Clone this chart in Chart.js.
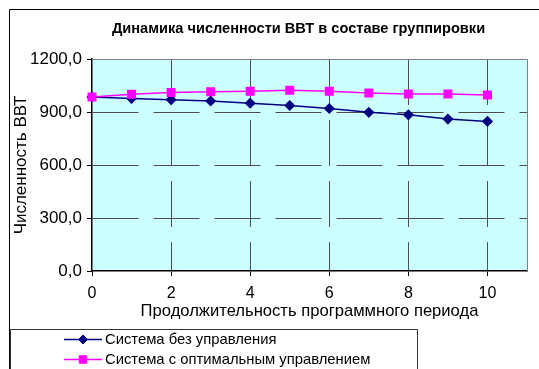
<!DOCTYPE html>
<html lang="ru">
<head>
<meta charset="utf-8">
<title>Динамика численности ВВТ в составе группировки</title>
<script src="https://cdn.jsdelivr.net/npm/chart.js@4/dist/chart.umd.min.js"></script>
<style>
  html, body { margin: 0; padding: 0; background: #ffffff; }
  #wrap { width: 539px; height: 369px; }
</style>
</head>
<body>
<div id="wrap"><canvas id="chart" width="539" height="369"></canvas></div>
<script>
// Period of the programme (x axis)
const periods = [0, 1, 2, 3, 4, 5, 6, 7, 8, 9, 10];
// Number of weapons units without control
const noControl = [985, 977, 970, 962, 950, 937, 920, 898, 884, 860, 847];
// Number of weapons units with optimal control
const optimalControl = [985, 1001, 1010, 1015, 1017, 1023, 1017, 1008, 1002, 1002, 996];

const seriesNames = ['Система без управления', 'Система с оптимальным управлением'];
const chartTitle = 'Динамика численности ВВТ в составе группировки';
const xTitle = 'Продолжительность программного периода';
const yTitle = 'Численность ВВТ';

const FONT = "'Liberation Sans', Arial, sans-serif";
const GRID = '#4d4d4d';

const toPoints = vals => periods.map((p, i) => ({ x: p, y: vals[i] }));

// Cyan plot area, gray top/right frame and the outer chart border
const frame = {
  id: 'frame',
  beforeDraw(chart) {
    const { ctx, chartArea: a } = chart;
    ctx.save();
    ctx.fillStyle = '#ffffff';
    ctx.fillRect(0, 0, chart.width, chart.height);
    ctx.fillStyle = '#ccffff';
    ctx.fillRect(a.left, a.top, a.right - a.left, a.bottom - a.top);
    ctx.strokeStyle = '#000000';
    ctx.lineWidth = 1;
    ctx.beginPath();
    ctx.moveTo(9.5, chart.height + 1);
    ctx.lineTo(9.5, 9.5);
    ctx.lineTo(chart.width + 1, 9.5);
    ctx.stroke();
    ctx.restore();
  },
  beforeDatasetsDraw(chart) {
    const { ctx, chartArea: a } = chart;
    ctx.save();
    ctx.strokeStyle = '#808080';
    ctx.lineWidth = 1;
    ctx.beginPath();
    ctx.moveTo(Math.round(a.left), Math.round(a.top) + 0.5);
    ctx.lineTo(Math.round(a.right) + 0.5, Math.round(a.top) + 0.5);
    ctx.lineTo(Math.round(a.right) + 0.5, Math.round(a.bottom));
    ctx.stroke();
    ctx.restore();
  },
  afterLayout(chart) {
    // heading sits a little right of the canvas centre
    const t = chart.titleBlock;
    if (t) { t.left += 30; t.right += 30; }
  }
};

// Boxed legend below the axis title: line sample with marker, then the label
const boxLegend = {
  id: 'boxLegend',
  afterDraw(chart) {
    const { ctx } = chart;
    const left = 10.5, top = 329.5, right = 417.5;
    ctx.save();
    ctx.fillStyle = '#ffffff';
    ctx.fillRect(left, top, right - left, chart.height - top + 2);
    ctx.strokeStyle = '#333333';
    ctx.lineWidth = 1;
    ctx.beginPath();
    ctx.moveTo(left, chart.height + 2);
    ctx.lineTo(left, top);
    ctx.lineTo(right, top);
    ctx.lineTo(right, chart.height + 2);
    ctx.stroke();

    const rows = [339, 359];
    chart.data.datasets.forEach((ds, r) => {
      const y = rows[r] + 0.5;
      ctx.strokeStyle = ds.borderColor;
      ctx.lineWidth = ds.borderWidth;
      ctx.beginPath();
      ctx.moveTo(64, y);
      ctx.lineTo(102, y);
      ctx.stroke();
      ctx.fillStyle = ds.pointBackgroundColor;
      ctx.strokeStyle = ds.pointBorderColor;
      ctx.lineWidth = 1;
      Chart.helpers.drawPoint(ctx, {
        pointStyle: ds.pointStyle,
        radius: ds.pointRadius,
        rotation: 0,
        borderWidth: 1
      }, 83, y);
      ctx.fillStyle = '#000000';
      ctx.font = '14.8px ' + FONT;
      ctx.textBaseline = 'middle';
      ctx.textAlign = 'left';
      ctx.fillText(ds.label, 105, y);
    });
    ctx.restore();
  }
};

new Chart(document.getElementById('chart'), {
  type: 'line',
  data: {
    datasets: [
      {
        label: seriesNames[0],
        data: toPoints(noControl),
        borderColor: '#000080',
        backgroundColor: '#000080',
        pointBackgroundColor: '#000080',
        pointBorderColor: '#000080',
        pointStyle: 'rectRot',
        pointRadius: 4.5,
        pointHoverRadius: 4.5,
        borderWidth: 1.5,
        tension: 0,
        clip: false,
        order: 1
      },
      {
        label: seriesNames[1],
        data: toPoints(optimalControl),
        borderColor: '#ff00ff',
        backgroundColor: '#ff00ff',
        pointBackgroundColor: '#ff00ff',
        pointBorderColor: '#ff00ff',
        pointStyle: 'rect',
        pointRadius: 5.3,
        pointHoverRadius: 5.3,
        borderWidth: 1.5,
        tension: 0,
        clip: false,
        order: 0
      }
    ]
  },
  options: {
    responsive: false,
    animation: false,
    events: [],
    layout: { padding: { left: 10, right: 12, top: 0, bottom: 48 } },
    plugins: {
      legend: { display: false },
      tooltip: { enabled: false },
      title: {
        display: true,
        text: chartTitle,
        color: '#000000',
        font: { family: FONT, size: 14.6, weight: 'bold' },
        padding: { top: 20.5, bottom: 21 }
      }
    },
    scales: {
      x: {
        type: 'linear',
        min: 0,
        max: 11,
        afterFit(scale) { scale.height = 50; },
        ticks: {
          stepSize: 2,
          includeBounds: false,
          padding: 8,
          color: '#000000',
          font: { family: FONT, size: 16 },
          maxRotation: 0
        },
        grid: {
          color: ctx => (ctx.tick && ctx.tick.value === 0) ? 'rgba(0,0,0,0)' : GRID,
          lineWidth: 1,
          tickLength: 5,
          tickColor: '#000000',
          tickBorderDash: [],
          tickWidth: 1
        },
        border: { display: true, color: '#000000', width: 1.5, dash: [46, 15] },
        title: {
          display: true,
          text: xTitle,
          color: '#000000',
          font: { family: FONT, size: 16.6 },
          padding: { top: 0, bottom: 0 }
        }
      },
      y: {
        type: 'linear',
        min: 0,
        max: 1200,
        afterFit(scale) { scale.width = 82; },
        ticks: {
          stepSize: 300,
          padding: 5,
          color: '#000000',
          font: { family: FONT, size: 17 },
          callback: v => v.toFixed(1).replace('.', ',')
        },
        grid: {
          color: ctx => (ctx.tick && (ctx.tick.value === 0 || ctx.tick.value === 1200)) ? 'rgba(0,0,0,0)' : GRID,
          lineWidth: 1,
          tickLength: 5,
          tickColor: '#000000',
          tickBorderDash: [],
          tickWidth: 1
        },
        border: { display: true, color: '#000000', width: 1.5, dash: [46, 15] },
        title: {
          display: true,
          text: yTitle,
          color: '#000000',
          font: { family: FONT, size: 17 },
          padding: { top: 1.5, bottom: 0 }
        }
      }
    }
  },
  plugins: [frame, boxLegend]
});
</script>
</body>
</html>
